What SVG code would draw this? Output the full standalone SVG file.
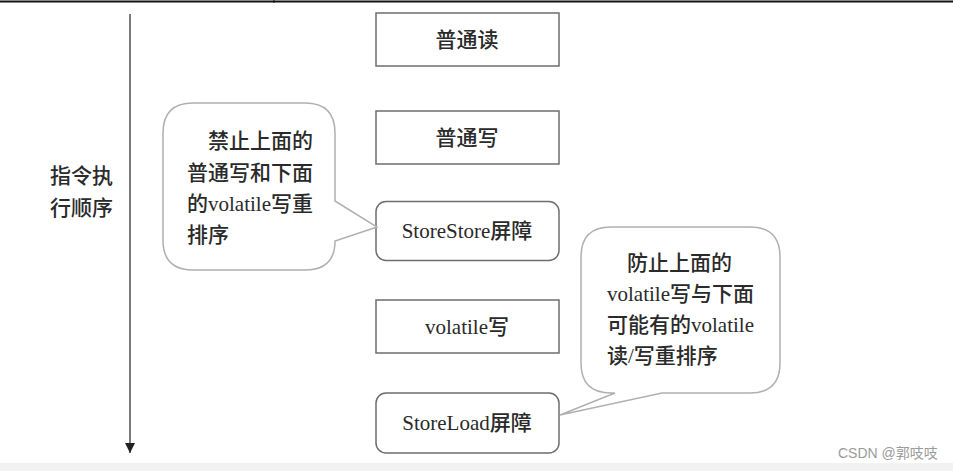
<svg xmlns="http://www.w3.org/2000/svg" width="953" height="471" viewBox="0 0 953 471">
<defs>
<style>
.t{font-family:"Liberation Serif","Noto Sans CJK SC",serif;font-size:21px;font-weight:500;fill:#2a2a2a;}
.c{text-anchor:middle;}
.box{fill:#fff;stroke:#6e6e6e;stroke-width:1.5;}
.bub{fill:#fff;stroke:#b0b0b0;stroke-width:1.5;}
</style>
<marker id="ah" viewBox="0 0 10 10" refX="10" refY="5" markerWidth="10" markerHeight="10" markerUnits="userSpaceOnUse" orient="auto">
<path d="M0,0 L10,5 L0,10 Z" fill="#222"/>
</marker>
</defs>
<rect x="0" y="0" width="953" height="471" fill="#fff"/>
<rect x="0" y="463" width="953" height="8" fill="#f2f2f2"/>
<line x1="0" y1="1.5" x2="953" y2="1.5" stroke="#111" stroke-width="2"/>
<line x1="274" y1="0" x2="274" y2="3" stroke="#111" stroke-width="1"/>

<g id="connectors">
<line x1="130" y1="14" x2="130" y2="453" stroke="#333" stroke-width="1.3" marker-end="url(#ah)"/>
</g>

<g id="order-label">
<text class="t" x="50" y="183">指令执</text>
<text class="t" x="50" y="215">行顺序</text>
</g>

<g id="node-read">
<rect class="box" x="376" y="13" width="183" height="53"/>
<text class="t c" x="467" y="47">普通读</text>
</g>
<g id="node-write">
<rect class="box" x="376" y="111" width="183" height="53"/>
<text class="t c" x="467" y="145">普通写</text>
</g>
<g id="node-storestore">
<rect class="box" x="376" y="201.5" width="183" height="59" rx="10"/>
<text class="t c" x="467" y="238">StoreStore屏障</text>
</g>
<g id="node-volatile-write">
<rect class="box" x="376" y="300" width="183" height="53"/>
<text class="t c" x="467" y="334">volatile写</text>
</g>
<g id="node-storeload">
<rect class="box" x="376" y="393" width="183" height="60" rx="10"/>
<text class="t c" x="467" y="430">StoreLoad屏障</text>
</g>

<g id="callout-storestore">
<path class="bub" d="M193 103 H305 Q335 103 335 133 V201 L377 227 L335 241 Q335 270 305 270 H193 Q163 270 163 240 V133 Q163 103 193 103 Z"/>
<text class="t" x="208" y="148">禁止上面的</text>
<text class="t" x="187" y="180">普通写和下面</text>
<text class="t" x="187" y="211">的volatile写重</text>
<text class="t" x="187" y="242">排序</text>
</g>

<g id="callout-storeload">
<path class="bub" d="M611 227 H750 Q780 227 780 257 V363 Q780 393 750 393 H662 L560 415 L615 393 H611 Q581 393 581 363 V257 Q581 227 611 227 Z"/>
<text class="t" x="627" y="270">防止上面的</text>
<text class="t" x="607" y="301">volatile写与下面</text>
<text class="t" x="607" y="332">可能有的volatile</text>
<text class="t" x="607" y="363">读/写重排序</text>
</g>

<text x="838" y="458" style="font-family:'Liberation Sans','Noto Sans CJK SC',sans-serif;font-size:14px;fill:#9a9a9a">CSDN @郭吱吱</text>
</svg>
